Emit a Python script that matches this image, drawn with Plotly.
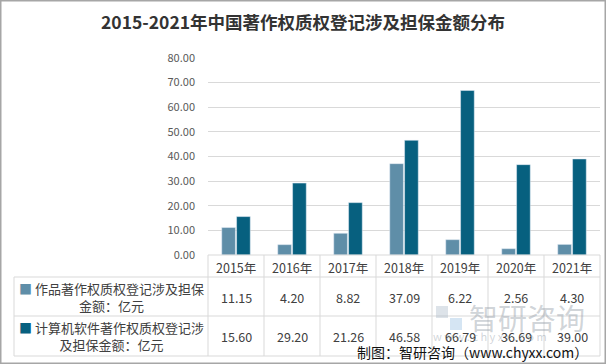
import plotly.graph_objects as go

years = ["2015年", "2016年", "2017年", "2018年", "2019年", "2020年", "2021年"]
works = [11.15, 4.20, 8.82, 37.09, 6.22, 2.56, 4.30]
software = [15.60, 29.20, 21.26, 46.58, 66.79, 36.69, 39.00]
name1 = "作品著作权质权登记涉及担保金额：亿元"
name2 = "计算机软件著作权质权登记涉及担保金额：亿元"
yticks = [0, 10, 20, 30, 40, 50, 60, 70, 80]

c1 = "#5f8ea8"
c2 = "#07607f"
W, H = 606, 364
L, R, T, B = 208, 600, 58, 255  # plot area pixels

def px(x):
    return (x - L) / (R - L)

def py(y):
    return (B - y) / (B - T)

fig = go.Figure()
fig.add_bar(x=years, y=works, name=name1, marker_color=c1)
fig.add_bar(x=years, y=software, name=name2, marker_color=c2)

font = "Microsoft YaHei, Noto Sans CJK SC, sans-serif"
shapes = []
ln = dict(color="#d9d9d9", width=1)
for yy in [277, 316, 356]:
    shapes.append(dict(type="line", xref="paper", yref="paper", x0=px(14), x1=px(R), y0=py(yy), y1=py(yy), line=ln))
shapes.append(dict(type="line", xref="paper", yref="paper", x0=0, x1=1, y0=py(B), y1=py(B), line=ln))
n = len(years)
for i in range(n + 1):
    xx = L + i * (R - L) / n
    shapes.append(dict(type="line", xref="paper", yref="paper", x0=px(xx), x1=px(xx), y0=py(B), y1=py(356), line=ln))
shapes.append(dict(type="line", xref="paper", yref="paper", x0=px(14), x1=px(14), y0=py(277), y1=py(356), line=ln))
shapes.append(dict(type="rect", xref="paper", yref="paper", x0=px(0.75), x1=px(605.25), y0=py(0.75), y1=py(363.25),
                   line=dict(color="#a6a6a6", width=1.5)))
# watermark logo (faint)
wm = "rgba(170,185,200,0.4)"
shapes.append(dict(type="rect", xref="paper", yref="paper", x0=px(436), x1=px(448), y0=py(306), y1=py(318),
                   line=dict(width=0), fillcolor=wm))
shapes.append(dict(type="rect", xref="paper", yref="paper", x0=px(450), x1=px(462), y0=py(318), y1=py(330),
                   line=dict(width=0), fillcolor="rgba(150,190,225,0.4)"))

def A(x, y, text, size, color="#404040", xref="paper", **kw):
    d = dict(x=x, y=y, xref=xref, yref="paper", text=text, showarrow=False,
             xanchor="center", yanchor="middle",
             font=dict(size=size, color=color, family=font))
    d.update(kw)
    return d

ann = []
ann.append(A(px(527), py(317), "智研咨询", 29, color="rgba(150,160,170,0.45)"))
ann.append(A(px(490), py(336), "w w w . c h y x x . c o m", 11, color="rgba(150,160,170,0.45)"))
for i, yr in enumerate(years):
    ann.append(A(yr, py(267), yr, 12.5, xref="x"))
    ann.append(A(yr, py(297), f"{works[i]:.2f}", 12.5, xref="x"))
    ann.append(A(yr, py(336), f"{software[i]:.2f}", 12.5, xref="x"))

ann.append(A(px(111), py(297), f'<span style="color:{c1}">■</span> 作品著作权质权登记涉及担保<br>金额：亿元', 13, align="center"))
ann.append(A(px(111), py(336), f'<span style="color:{c2}">■</span> 计算机软件著作权质权登记涉<br>及担保金额：亿元', 13, align="center"))
ann.append(A(px(472), py(352), "制图：智研咨询（www.chyxx.com）", 14, color="#111111"))
ann.append(A(px(303), py(22), "<b>2015-2021年中国著作权质权登记涉及担保金额分布</b>", 17.5, color="#333333"))

fig.update_layout(
    width=W, height=H,
    margin=dict(l=L, r=W - R, t=T, b=H - B, pad=0, autoexpand=False),
    paper_bgcolor="white", plot_bgcolor="white",
    barmode="group", bargap=0.47, bargroupgap=0.08,
    showlegend=False,
    shapes=shapes, annotations=ann,
    xaxis=dict(showticklabels=False, showgrid=False, showline=False, zeroline=False, ticks="", automargin=False),
    yaxis=dict(range=[0, 80], tickvals=yticks, ticktext=[f"{v:.2f}" for v in yticks],
               showgrid=True, gridcolor="#d9d9d9", gridwidth=1, zeroline=False, automargin=False,
               tickfont=dict(size=11, color="#595959", family=font), ticks="", ticklabelstandoff=12),
)

fig.write_html("out.html", config={"displayModeBar": False},
               post_script="document.body.style.margin='0';document.body.style.overflow='hidden';")
